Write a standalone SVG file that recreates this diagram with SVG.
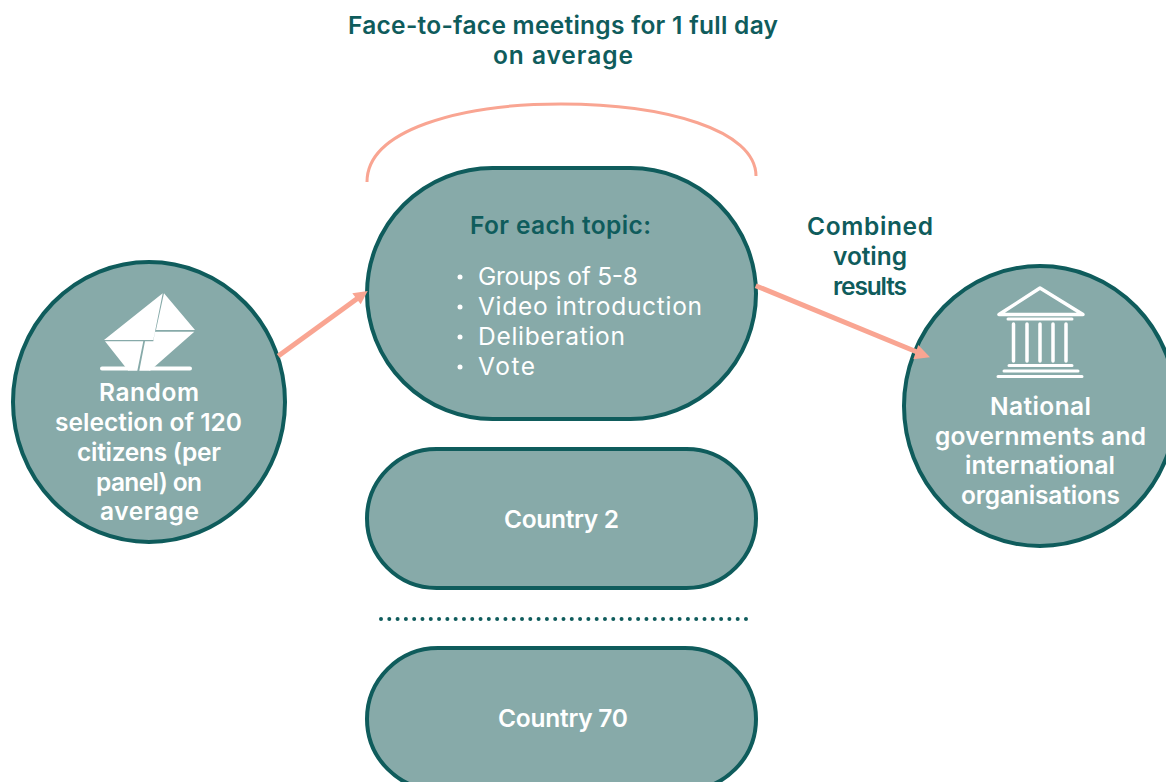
<svg xmlns="http://www.w3.org/2000/svg" width="1166" height="782" viewBox="0 0 1166 782">
<style>
text{font-family:"Inter","Liberation Sans",sans-serif;font-size:24.5px}
.h{font-weight:600;fill:#0f5c5c}
.w{font-weight:600;fill:#fff}
.r{font-weight:400;fill:#fff}
.n{fill:#87aaa9;stroke:#0f5c5c;stroke-width:4}
.a{stroke:#f9a592;stroke-width:5;fill:none}
.ah{fill:#f9a592}
.i{fill:#fff}
.l{stroke:#fff;fill:none;stroke-linecap:round}
</style>
<rect width="1166" height="782" fill="#fff"/>
<g id="title">
<text class="h" x="348" y="34" textLength="430">Face-to-face meetings for 1 full day</text>
<text class="h" x="493" y="64" textLength="140">on average</text>
</g>
<g id="node-selection">
<ellipse class="n" cx="149" cy="402" rx="136" ry="140"/>
<path class="i" d="M162.700 293.300L104 340H153.300ZM164 293.300L156 330H195ZM105 341.300H143.300L137.300 370.700H128.300ZM155 331.700H194.300L150 370.700H139.300L145 341.300H153.300Z"/>
<path class="l" stroke-width="4" d="M102 368.500H128M150 368.500H190"/>
<text class="w" x="99" y="401" textLength="100">Random</text>
<text class="w" x="55" y="431" textLength="187">selection of 120</text>
<text class="w" x="77" y="461" textLength="144">citizens (per</text>
<text class="w" x="96" y="491" textLength="106">panel) on</text>
<text class="w" x="100" y="520" textLength="99">average</text>
</g>
<g id="node-topic">
<path d="M367 182C367 130 460 104 561 104C665 104 756 130 756 176" fill="none" stroke="#f9a592" stroke-width="3"/>
<rect class="n" x="367" y="168" width="389" height="251" rx="125.500"/>
<text class="h" x="470" y="234" textLength="181">For each topic:</text>
<circle class="i" cx="460" cy="277" r="2.500"/>
<circle class="i" cx="460" cy="307" r="2.500"/>
<circle class="i" cx="460" cy="337" r="2.500"/>
<circle class="i" cx="460" cy="367" r="2.500"/>
<text class="r" x="478" y="285" textLength="160">Groups of 5-8</text>
<text class="r" x="478" y="315" textLength="224">Video introduction</text>
<text class="r" x="478" y="345" textLength="147">Deliberation</text>
<text class="r" x="478" y="375" textLength="57">Vote</text>
</g>
<g id="node-country2">
<rect class="n" x="367" y="449" width="389" height="139" rx="69.500"/>
<text class="w" x="504" y="528" textLength="115">Country 2</text>
</g>
<g id="dots">
<path d="M381 619H748" stroke="#0f5c5c" stroke-width="4" stroke-linecap="round" stroke-dasharray="0 8.295"/>
</g>
<g id="node-country70">
<rect class="n" x="367" y="648" width="389" height="142" rx="71"/>
<text class="w" x="498" y="727" textLength="130">Country 70</text>
</g>
<g id="node-governments">
<ellipse class="n" cx="1040" cy="406" rx="136" ry="140"/>
<path class="l" stroke-width="3.500" stroke-linejoin="round" d="M1040 288L999 314.500H1083Z"/>
<path class="l" stroke-width="3" d="M1008 319H1072M1009 365.500H1072M1004 371H1078M998 376.500H1082"/>
<path class="l" stroke-width="3.500" d="M1013.500 324V361M1027 324V361M1040 324V361M1053 324V361M1066 324V361"/>
<text class="w" x="990" y="415" textLength="101">National</text>
<text class="w" x="935" y="445" textLength="211">governments and</text>
<text class="w" x="965" y="474" textLength="150">international</text>
<text class="w" x="961" y="504" textLength="159">organisations</text>
</g>
<g id="connectors">
<path class="a" d="M278.300 356L358 298"/>
<path class="ah" d="M367.700 291L352.300 293.300L360.700 304.300Z"/>
<path class="a" d="M755.700 285.700L917 352"/>
<path class="ah" d="M930 357.300L918.300 345L913.300 359.300Z"/>
</g>
<g id="label-combined">
<text class="h" x="807" y="235" textLength="126">Combined</text>
<text class="h" x="833" y="265" textLength="74">voting</text>
<text class="h" x="833" y="295" textLength="74">results</text>
</g>
</svg>
